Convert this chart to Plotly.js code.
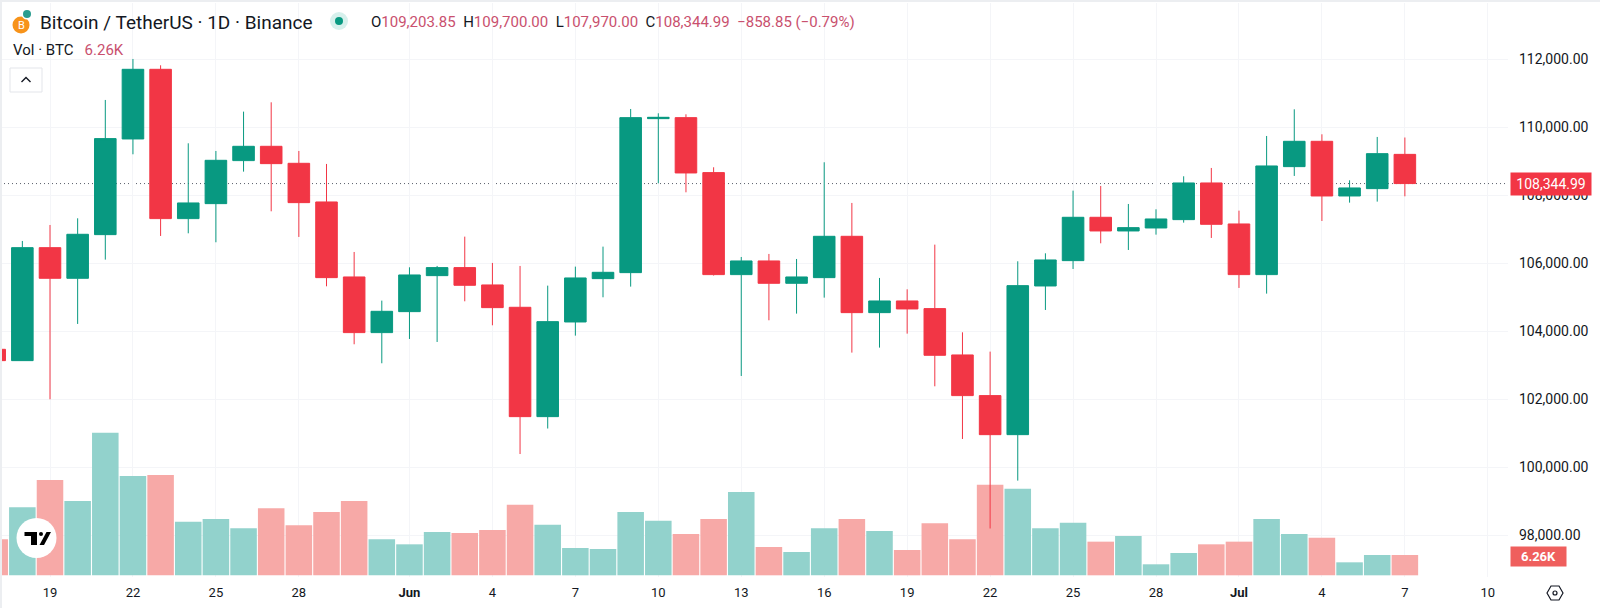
<!DOCTYPE html>
<html><head><meta charset="utf-8">
<script src="https://cdn.plot.ly/plotly-3.0.1.min.js"></script>
<style>html,body{margin:0;padding:0;background:#fff;overflow:hidden}#c{width:1600px;height:608px}</style>
</head><body><div id="c"></div>
<script>
const dates=["2025-05-17","2025-05-18","2025-05-19","2025-05-20","2025-05-21","2025-05-22","2025-05-23","2025-05-24","2025-05-25","2025-05-26","2025-05-27","2025-05-28","2025-05-29","2025-05-30","2025-05-31","2025-06-01","2025-06-02","2025-06-03","2025-06-04","2025-06-05","2025-06-06","2025-06-07","2025-06-08","2025-06-09","2025-06-10","2025-06-11","2025-06-12","2025-06-13","2025-06-14","2025-06-15","2025-06-16","2025-06-17","2025-06-18","2025-06-19","2025-06-20","2025-06-21","2025-06-22","2025-06-23","2025-06-24","2025-06-25","2025-06-26","2025-06-27","2025-06-28","2025-06-29","2025-06-30","2025-07-01","2025-07-02","2025-07-03","2025-07-04","2025-07-05","2025-07-06","2025-07-07"];
const opens=[103470,103137,106460,105559,106843,109657,111706,107314,107755,109020,109441,108941,107804,105598,103961,104578,105637,105873,105363,104706,101490,104274,105549,105725,110255,110284,108667,105667,106069,105412,105578,106794,104549,104892,104667,103304,102108,100960,105333,106078,107353,106951,107039,107284,108363,107157,105667,108843,109588,107980,108196,109204];
const highs=[103470,106657,107127,107323,110804,112010,111824,109529,109304,110461,110735,109304,108922,106333,104902,105882,105922,106784,106010,105922,105343,105902,106490,110539,110412,110382,108824,106186,106275,106127,108971,107775,105569,105235,106549,103970,103402,106059,106294,108137,108275,107745,107588,108559,108804,107549,109745,110529,109794,108441,109716,109700];
const lows=[103137,103137,102000,104216,106108,109206,106804,106882,106618,108696,107529,106775,105323,103618,103059,103774,103686,104882,104176,100390,101140,103872,105000,105314,108353,108088,105640,102686,104324,104520,104990,103373,103520,103931,102382,100833,98200,99608,104627,105833,106588,106392,106843,107196,106745,105275,105108,108569,107245,107784,107814,107970];
const closes=[103137,106460,105559,106853,109667,111706,107314,107775,109029,109441,108931,107784,105578,103961,104588,105657,105873,105353,104696,101490,104284,105569,105735,110284,110294,108657,105667,106069,105412,105598,106794,104549,104892,104657,103294,102108,100960,105343,106098,107353,106951,107049,107304,108363,107147,105667,108863,109588,107980,108216,109225,108345];
const volumes=[11.08,20.93,29.34,22.88,43.9,30.57,30.88,16.52,17.34,14.47,20.62,15.39,19.49,22.88,11.08,9.54,13.34,13.03,13.95,21.75,15.6,8.41,8.11,19.49,16.83,12.72,17.34,25.65,8.72,7.18,14.47,17.34,13.65,7.8,16.0,11.08,27.9,26.68,14.47,16.21,10.36,12.11,3.39,6.87,9.54,10.36,17.34,12.72,11.59,4.0,6.26,6.26];
const tickDates=["2025-05-19","2025-05-22","2025-05-25","2025-05-28","2025-06-01","2025-06-04","2025-06-07","2025-06-10","2025-06-13","2025-06-16","2025-06-19","2025-06-22","2025-06-25","2025-06-28","2025-07-01","2025-07-04","2025-07-07","2025-07-10"];
const tickLabels=["19","22","25","28","<b>Jun</b>","4","7","10","13","16","19","22","25","28","<b>Jul</b>","4","7","10"];
const priceTicks=[98000,100000,102000,104000,106000,108000,110000,112000];
const priceLabels=priceTicks.map(v=>v.toLocaleString("en-US")+".00");
const lastClose=108344.99;
const lastVolumeText="6.26K";
const GREEN="#089981",RED="#F23645",VG="#92D2CC",VR="#F7A9A7",GRID="#f4f5f8",INK="#131722",PINK="#C9506E";
const FONT="Roboto, sans-serif";

const W=1600,H=608,M={l:0,r:92,t:3,b:31};
const px=x=>x/(W-M.l-M.r), py=y=>1-(y-M.t)/(H-M.t-M.b);
const note=(x,y,text,o={})=>Object.assign({xref:"paper",yref:"paper",x:px(x),y:py(y),text,showarrow:false,xanchor:"left",yanchor:"middle",font:{family:FONT,size:14,color:INK}},o);
const rect=(x0,y0,x1,y1,fill,line)=>({type:"rect",xref:"paper",yref:"paper",x0:px(x0),x1:px(x1),y0:py(y0),y1:py(y1),fillcolor:fill,line:line||{width:0}});
const circ=(cx,cy,r,fill,line)=>({type:"circle",xref:"paper",yref:"paper",x0:px(cx-r),x1:px(cx+r),y0:py(cy-r),y1:py(cy+r),fillcolor:fill,line:line||{width:0}});
const poly=(pts,fill,line,close=true)=>({type:"path",xref:"paper",yref:"paper",path:"M"+pts.map(p=>px(p[0])+","+py(p[1])).join("L")+(close?"Z":""),fillcolor:fill,line:line||{width:0}});

const shapes=[
 {type:"line",xref:"paper",yref:"y2",x0:0,x1:1,y0:lastClose,y1:lastClose,layer:"below",line:{color:"#5a5f6b",width:1,dash:"1px,3px"}},
 rect(0,0,1600,2,"#eceef1"),rect(0,0,2,608,"#eceef1"),
 rect(10,68,42,92,"#ffffff",{color:"#e3e5ea",width:1}),
 poly([[21.5,82],[26,77.5],[30.5,82]],"rgba(0,0,0,0)",{color:INK,width:1.4},false),
 circ(339,21,9,"#d6f0ec"),circ(339,21,4,GREEN),
 circ(21,25,8.5,"#F7931A"),circ(27,14,5.5,"#ffffff"),circ(27,14,4,"#2a9d8f"),
 circ(36.5,538,20,"#ffffff"),
 poly([[24.5,532],[37,532],[37,545],[31,545],[31,536],[24.5,536]],"#000000"),
 circ(41,534,2,"#000000"),
 poly([[46.5,532],[51,532],[44,545],[39.5,545]],"#000000"),
 poly([[1547,593],[1551,586],[1559,586],[1563,593],[1559,600],[1551,600]],"rgba(0,0,0,0)",{color:INK,width:1.2}),
 circ(1555,593,2,"rgba(0,0,0,0)",{color:INK,width:1.2})
];
const annotations=[
 note(38,22.5,"Bitcoin / TetherUS · 1D · Binance",{font:{family:FONT,size:19,color:INK}}),
 note(369,21.5,`O<span style="color:${PINK}">109,203.85</span>  H<span style="color:${PINK}">109,700.00</span>  L<span style="color:${PINK}">107,970.00</span>  C<span style="color:${PINK}">108,344.99</span>  <span style="color:${PINK}">−858.85 (−0.79%)</span>`,{font:{family:FONT,size:15,color:INK}}),
 note(11,50,`Vol · BTC   <span style="color:${PINK}">${lastVolumeText}</span>`,{font:{family:FONT,size:15,color:INK}}),
 note(21,25.5,"B",{xanchor:"center",font:{family:FONT,size:11,color:"#fff"}}),
 {xref:"paper",yref:"y2",x:px(1510),y:lastClose,text:lastClose.toLocaleString("en-US"),showarrow:false,xanchor:"left",yanchor:"middle",bgcolor:"#F23645",borderpad:3,width:74,align:"center",font:{family:FONT,size:14,color:"#fff"}},
 note(1510,556,`<b>${lastVolumeText}</b>`,{bgcolor:"#EF5F5D",borderpad:2,width:51,align:"center",font:{family:FONT,size:13,color:"#fff"}})
];

const traces=[
 {type:"bar",x:dates,y:volumes,yaxis:"y",xaxis:"x",marker:{color:closes.map((c,i)=>c>=opens[i]?VG:VR),line:{width:0}},hoverinfo:"skip",showlegend:false},
 {type:"candlestick",x:dates,open:opens,high:highs,low:lows,close:closes,xaxis:"x",yaxis:"y2",whiskerwidth:0,
  increasing:{line:{color:GREEN,width:1},fillcolor:GREEN},decreasing:{line:{color:RED,width:1},fillcolor:RED},hoverinfo:"skip",showlegend:false}
];
const layout={
 width:W,height:H,margin:M,paper_bgcolor:"#fff",plot_bgcolor:"#fff",showlegend:false,bargap:0.04,boxgap:0.22,boxgroupgap:0,
 font:{family:FONT,color:INK,size:13},
 xaxis:{type:"date",range:["2025-05-17 04:36","2025-07-10 17:31"],rangeslider:{visible:false},tickmode:"array",tickvals:tickDates,ticktext:tickLabels,
  showgrid:true,gridcolor:GRID,gridwidth:1,zeroline:false,showline:false,ticks:"",ticklabelstandoff:6,tickfont:{family:FONT,size:13,color:INK}},
 yaxis:{range:[-0.52,176.2],visible:false,showgrid:false,zeroline:false},
 yaxis2:{overlaying:"y",side:"right",anchor:"x",range:[96773,113656],tickmode:"array",tickvals:priceTicks,ticktext:priceLabels,
  showgrid:true,gridcolor:GRID,gridwidth:1,zeroline:false,showline:false,ticks:"",ticklabelstandoff:10,tickfont:{family:FONT,size:14,color:INK}},
 shapes,annotations
};
Plotly.newPlot("c",traces,layout,{displayModeBar:false,staticPlot:true});
</script></body></html>
